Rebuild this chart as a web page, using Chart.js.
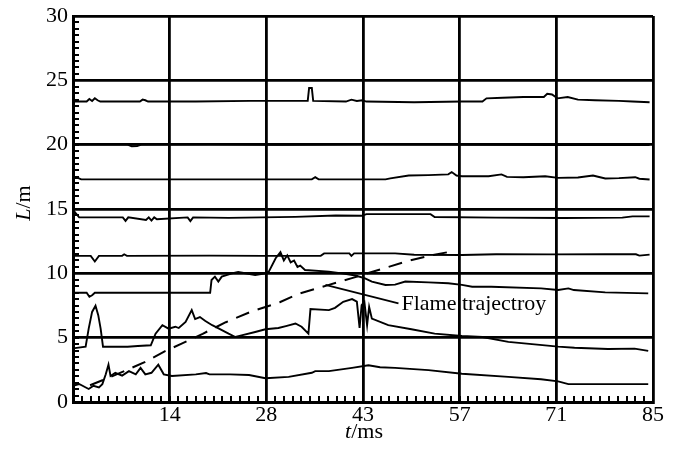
<!DOCTYPE html>
<html>
<head>
<meta charset="utf-8">
<script src="https://cdn.jsdelivr.net/npm/chart.js@4.4.0/dist/chart.umd.min.js"></script>
<style>
  html, body { margin: 0; padding: 0; background: #fff; }
  #wrap { width: 682px; height: 453px; }
</style>
</head>
<body>
<div id="wrap"><canvas id="chart" width="682" height="453"></canvas></div>
<script>
// axis ticks
const xTickValues = [0, 14.17, 28.33, 42.5, 56.67, 70.83, 85];
const xTickLabels = ['', '14', '28', '43', '57', '71', '85'];
const yTickValues = [0, 5, 10, 15, 20, 25, 30];

// sensor traces, t in ms, L in m
const tA = [0, 2.0, 2.4, 2.8, 3.2, 3.6, 4.0, 9.8, 10.2, 10.6, 11.0, 18, 26, 34.4, 34.6, 35.0, 35.2, 40.0, 40.8, 41.6, 42.4, 43.0, 50, 57, 60.0, 60.6, 63.0, 66, 69.0, 69.5, 70.2, 71.0, 72.5, 74.0, 76.5, 80.0, 82.0, 84.5];
const LA = [23.35, 23.35, 23.55, 23.4, 23.6, 23.45, 23.35, 23.35, 23.5, 23.45, 23.35, 23.35, 23.4, 23.4, 24.4, 24.4, 23.4, 23.35, 23.5, 23.4, 23.45, 23.35, 23.3, 23.35, 23.35, 23.6, 23.65, 23.7, 23.7, 23.95, 23.9, 23.6, 23.7, 23.5, 23.45, 23.4, 23.35, 23.3];

const tB = [0, 8, 8.6, 9.4, 10, 20, 30, 43, 55, 70, 84.5];
const LB = [20, 20, 19.88, 19.9, 20, 20.03, 19.98, 20.02, 20, 19.97, 19.97];

const tC = [0, 0.8, 1.2, 20, 35.0, 35.5, 36.0, 45.8, 46.5, 49.2, 52.1, 55.0, 55.5, 56.2, 57, 60.9, 62.8, 63.6, 66, 69.2, 71.1, 74, 76.2, 78, 80, 82.4, 83.0, 84.5];
const LC = [17.4, 17.4, 17.3, 17.3, 17.3, 17.47, 17.3, 17.3, 17.38, 17.6, 17.63, 17.69, 17.87, 17.6, 17.55, 17.55, 17.69, 17.5, 17.47, 17.55, 17.42, 17.45, 17.6, 17.37, 17.4, 17.47, 17.35, 17.29];

const tD = [0, 0.9, 7.3, 7.7, 8.1, 10.7, 11.1, 11.5, 11.9, 12.3, 16.8, 17.2, 17.6, 22.8, 32.6, 38.5, 42.3, 43.0, 52.4, 53.0, 62, 72, 80.5, 82, 84.5];
const LD = [14.93, 14.35, 14.35, 14.08, 14.35, 14.15, 14.35, 14.1, 14.35, 14.2, 14.35, 14.06, 14.35, 14.31, 14.39, 14.5, 14.47, 14.6, 14.6, 14.38, 14.33, 14.3, 14.33, 14.43, 14.43];

const tE = [0, 2.6, 3.2, 3.8, 7.2, 7.5, 7.9, 20, 28, 36.3, 36.8, 40.5, 40.8, 41.2, 47.2, 50, 57, 62, 70, 78, 82.5, 83, 84.5];
const LE = [11.36, 11.36, 10.92, 11.36, 11.36, 11.48, 11.36, 11.38, 11.36, 11.36, 11.55, 11.55, 11.36, 11.55, 11.55, 11.45, 11.42, 11.48, 11.47, 11.48, 11.48, 11.38, 11.45];

const tF = [0, 2.0, 2.4, 2.8, 3.2, 20.1, 20.3, 20.8, 21.3, 21.8, 23.3, 24.2, 26.7, 28.2, 28.7, 29.7, 30.4, 30.9, 31.4, 31.9, 32.4, 32.9, 33.3, 34.0, 37.5, 39.4, 41.4, 42.8, 43.8, 45.8, 47.2, 48.7, 52.1, 55.0, 57.0, 58.5, 61.3, 68.6, 71.1, 72.6, 73.4, 78.0, 84.3];
const LF = [8.49, 8.49, 8.18, 8.3, 8.49, 8.49, 9.48, 9.74, 9.36, 9.74, 10.0, 10.1, 9.87, 10.0, 10.13, 11.17, 11.64, 11.0, 11.4, 10.85, 11.0, 10.5, 10.6, 10.26, 10.13, 10.0, 9.83, 9.61, 9.36, 9.09, 9.12, 9.36, 9.3, 9.23, 9.1, 8.96, 8.96, 8.83, 8.7, 8.83, 8.7, 8.52, 8.44];

const tG = [0, 1.85, 2.3, 2.8, 3.3, 3.7, 4.05, 4.4, 8, 9.5, 11.4, 12.1, 13.1, 14.0, 15.0, 15.5, 16.5, 17.4, 17.9, 18.6, 19.4, 20.4, 21.4, 22.8, 23.8, 24.7, 26.7, 28.2, 30.1, 31.2, 32.6, 33.5, 34.5, 34.8, 37.5, 38.4, 39.6, 40.9, 41.6, 42.0, 42.3, 42.7, 43.1, 43.4, 43.8, 46.2, 49.6, 53.0, 57.0, 60.0, 63.8, 71.1, 73.5, 78.4, 82.3, 84.3];
const LG = [4.17, 4.3, 5.7, 7.0, 7.48, 6.75, 5.7, 4.29, 4.29, 4.35, 4.41, 5.31, 5.97, 5.7, 5.85, 5.75, 6.23, 7.14, 6.45, 6.6, 6.3, 5.97, 5.7, 5.31, 5.05, 5.18, 5.44, 5.65, 5.75, 5.9, 6.1, 5.85, 5.31, 7.22, 7.14, 7.32, 7.79, 8.0, 7.8, 5.76, 7.53, 7.79, 5.97, 7.4, 6.48, 5.97, 5.65, 5.31, 5.13, 5.05, 4.67, 4.3, 4.22, 4.12, 4.15, 3.97];

const tH = [0, 0.9, 2.3, 3.0, 3.8, 4.3, 4.8, 5.2, 5.5, 6.2, 7.2, 8.2, 9.2, 9.9, 10.6, 11.5, 12.5, 13.3, 14.5, 18, 19.5, 20, 23, 25.8, 28.2, 31.6, 35.0, 35.5, 37.5, 40.9, 43.3, 45, 47.2, 52.1, 57.0, 63.8, 68.6, 71.1, 72.6, 84.3];
const LH = [1.26, 1.4, 1.01, 1.26, 1.14, 1.39, 2.15, 2.9, 2.02, 2.27, 2.05, 2.4, 2.15, 2.65, 2.15, 2.27, 2.9, 2.15, 2.02, 2.15, 2.25, 2.15, 2.15, 2.1, 1.85, 1.95, 2.27, 2.4, 2.4, 2.65, 2.85, 2.7, 2.65, 2.48, 2.2, 1.95, 1.77, 1.6, 1.39, 1.39];

// flame front (dashed) and its label leader
const tFlame = [2.5, 5.5, 7.5, 10.5, 13.5, 16, 19, 22.4, 26, 30.3, 33, 37.5, 41, 45, 49, 52.5, 55.5];
const LFlame = [1.3, 1.95, 2.4, 3.1, 3.95, 4.55, 5.3, 6.2, 7.0, 7.75, 8.4, 9.1, 9.65, 10.3, 10.95, 11.4, 11.7];
const tLeader = [37.0, 47.7];
const LLeader = [9.1, 7.66];
const flameLabel = 'Flame trajectroy';

const serif = "'Liberation Serif', 'Times New Roman', serif";

function pts(t, L) {
  return t.map((v, i) => ({ x: v, y: L[i] }));
}

function trace(t, L, extra) {
  return Object.assign({
    data: pts(t, L),
    borderColor: '#000',
    borderWidth: 1.9,
    pointRadius: 0,
    tension: 0,
    fill: false,
  }, extra || {});
}

// minor ticks inside the frame, axis titles and the flame label
const decorPlugin = {
  id: 'decor',
  afterDraw(chart) {
    const ctx = chart.ctx;
    const xs = chart.scales.x;
    const ys = chart.scales.y;
    const area = chart.chartArea;
    ctx.save();
    ctx.strokeStyle = '#000';
    ctx.lineWidth = 2;
    ctx.beginPath();
    for (let i = 1; i < 66; i++) {
      const px = Math.round(xs.getPixelForValue(85 * i / 66));
      ctx.moveTo(px, area.bottom);
      ctx.lineTo(px, area.bottom - 6);
    }
    for (let i = 1; i < 60; i++) {
      const py = Math.round(ys.getPixelForValue(i * 0.5));
      ctx.moveTo(area.left, py);
      ctx.lineTo(area.left + 6, py);
    }
    ctx.stroke();

    ctx.fillStyle = '#000';
    ctx.textBaseline = 'middle';

    // x title: t/ms
    ctx.font = 'italic 22px ' + serif;
    const wt = ctx.measureText('t').width;
    ctx.font = '22px ' + serif;
    const wms = ctx.measureText('/ms').width;
    const cx = (area.left + area.right) / 2 + 1;
    let x0 = cx - (wt + wms) / 2;
    const ty = area.bottom + 30;
    ctx.textAlign = 'left';
    ctx.font = 'italic 22px ' + serif;
    ctx.fillText('t', x0, ty);
    ctx.font = '22px ' + serif;
    ctx.fillText('/ms', x0 + wt, ty);

    // y title: L/m
    ctx.save();
    ctx.translate(24, (area.top + area.bottom) / 2 - 6);
    ctx.rotate(-Math.PI / 2);
    ctx.font = 'italic 22px ' + serif;
    const wL = ctx.measureText('L').width;
    ctx.font = '22px ' + serif;
    const wm = ctx.measureText('/m').width;
    x0 = -(wL + wm) / 2;
    ctx.font = 'italic 22px ' + serif;
    ctx.fillText('L', x0, 0);
    ctx.font = '22px ' + serif;
    ctx.fillText('/m', x0 + wL, 0);
    ctx.restore();

    // flame label at the end of the leader
    const lx = xs.getPixelForValue(tLeader[1]);
    const ly = ys.getPixelForValue(LLeader[1]);
    ctx.font = '22px ' + serif;
    ctx.fillText(flameLabel, lx + 3, ly + 1);
    ctx.restore();
  }
};

const ctx = document.getElementById('chart').getContext('2d');
new Chart(ctx, {
  type: 'line',
  data: {
    datasets: [
      trace(tA, LA),
      trace(tB, LB),
      trace(tC, LC),
      trace(tD, LD),
      trace(tE, LE),
      trace(tF, LF),
      trace(tG, LG),
      trace(tH, LH),
      trace(tFlame, LFlame, { borderDash: [14, 9], borderWidth: 2 }),
      trace(tLeader, LLeader, { borderWidth: 1.7 }),
    ],
  },
  options: {
    responsive: false,
    animation: false,
    events: [],
    layout: { padding: { left: 0, right: 29, top: 14, bottom: 0 } },
    plugins: {
      legend: { display: false },
      tooltip: { enabled: false },
    },
    scales: {
      x: {
        type: 'linear',
        min: 0,
        max: 85,
        afterBuildTicks: (scale) => {
          scale.ticks = xTickValues.map(v => ({ value: v }));
        },
        afterFit: (scale) => { scale.height = 51; },
        grid: { color: '#000', lineWidth: 2.8, drawTicks: false },
        border: { display: true, color: '#000', width: 3 },
        ticks: {
          color: '#000',
          padding: 2,
          maxRotation: 0,
          autoSkip: false,
          font: { family: serif, size: 22, lineHeight: 1 },
          callback: (value, index) => xTickLabels[index],
        },
      },
      y: {
        type: 'linear',
        min: 0,
        max: 30,
        afterBuildTicks: (scale) => {
          scale.ticks = yTickValues.map(v => ({ value: v }));
        },
        afterFit: (scale) => { scale.width = 73; },
        grid: { color: '#000', lineWidth: 2.8, drawTicks: false },
        border: { display: true, color: '#000', width: 3 },
        ticks: {
          color: '#000',
          padding: 5,
          autoSkip: false,
          font: { family: serif, size: 22, lineHeight: 1 },
        },
      },
    },
  },
  plugins: [decorPlugin],
});
</script>
</body>
</html>
